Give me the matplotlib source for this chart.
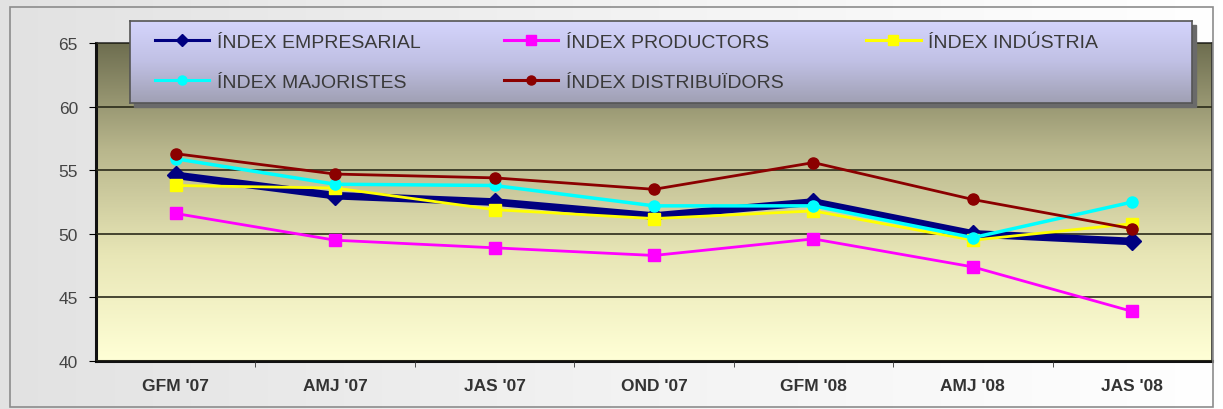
import numpy as np
import matplotlib.pyplot as plt
from matplotlib.colors import LinearSegmentedColormap
from matplotlib.lines import Line2D
from matplotlib.patches import Rectangle

plt.rcParams["font.family"] = ["Liberation Sans", "DejaVu Sans"]

periods = ["GFM '07", "AMJ '07", "JAS '07", "OND '07", "GFM '08", "AMJ '08", "JAS '08"]

empresarial = [54.6, 53.0, 52.5, 51.4, 52.5, 50.0, 49.4]
productors = [51.6, 49.5, 48.9, 48.3, 49.6, 47.4, 43.9]
industria = [53.8, 53.6, 51.9, 51.2, 51.8, 49.5, 50.8]
majoristes = [55.9, 53.9, 53.8, 52.2, 52.2, 49.7, 52.5]
distribuidors = [56.3, 54.7, 54.4, 53.5, 55.6, 52.7, 50.4]

series = [
    ("ÍNDEX EMPRESARIAL", empresarial, "#000080", "D", 5.5, 9),
    ("ÍNDEX PRODUCTORS", productors, "#ff00ff", "s", 2, 8),
    ("ÍNDEX INDÚSTRIA", industria, "#ffff00", "s", 2, 8),
    ("ÍNDEX MAJORISTES", majoristes, "#00ffff", "o", 2.5, 8),
    ("ÍNDEX DISTRIBUÏDORS", distribuidors, "#8b0000", "o", 2, 8),
]

fig = plt.figure(figsize=(12.23, 4.10), dpi=100)

# light grey figure background with gradient
bg = fig.add_axes([0, 0, 1, 1], zorder=-10)
bg.imshow(np.linspace(0, 1, 256).reshape(1, -1), extent=[0, 1, 0, 1], aspect="auto",
          cmap=LinearSegmentedColormap.from_list("bgg", ["#e2e2e2", "#f2f2f2", "#ffffff"]))
bg.axis("off")
fig.patches.append(Rectangle((0.008, 0.005), 0.984, 0.975, transform=fig.transFigure,
                             fill=False, edgecolor="#8c8c8c", lw=1.2))

ax = fig.add_axes([0.0785, 0.117, 0.9125, 0.7756])
x = np.arange(len(periods))

# plot area gradient (olive at top to pale yellow at bottom)
cmap = LinearSegmentedColormap.from_list(
    "plotbg", ["#ffffd6", "#e8e6b6", "#b8b68c", "#6e6e50"])
ax.imshow(np.linspace(0, 1, 256).reshape(-1, 1), extent=[-0.5, 6.5, 40, 65],
          aspect="auto", origin="lower", cmap=cmap, zorder=0)

for label, vals, color, marker, lw, ms in series:
    ax.plot(x, vals, color=color, marker=marker, lw=lw, ms=ms, label=label, zorder=3)

ax.set_xlim(-0.5, 6.5)
ax.set_ylim(40, 65)
ax.set_yticks(range(40, 66, 5))
ax.yaxis.grid(True, color="#2a2a1a", lw=1.2, zorder=1)
ax.set_axisbelow(False)
ax.set_xticks(x)
ax.set_xticklabels(periods, fontsize=12.5, fontweight="bold", color="#333333")
ax.set_xticks(np.arange(0.5, 6, 1), minor=True)
ax.tick_params(axis="x", which="major", length=0, pad=12)
ax.tick_params(axis="x", which="minor", length=4, color="#333333")
ax.tick_params(axis="y", length=5, labelsize=12.5, labelcolor="#444444", pad=8)
for s in ["left", "bottom"]:
    ax.spines[s].set_linewidth(2.2)
    ax.spines[s].set_color("#111111")
for s in ["top", "right"]:
    ax.spines[s].set_linewidth(1.2)
    ax.spines[s].set_color("#333333")

# legend box: shadow + gradient frame drawn as its own axes
lx, ly, lw_, lh = 130 / 1223, (410 - 104) / 410, 1062 / 1223, 82 / 410
fig.patches.append(Rectangle((lx + 4 / 1223, ly - 4 / 410), lw_, lh,
                             transform=fig.transFigure, color="#6a6a6a", zorder=4))
lax = fig.add_axes([lx, ly, lw_, lh], zorder=5)
lax.imshow(np.linspace(0, 1, 64).reshape(-1, 1), extent=[0, 1, 0, 1], aspect="auto",
           origin="lower",
           cmap=LinearSegmentedColormap.from_list("lg", ["#a0a0b4", "#c0c0e4", "#d4d4fc"]))
lax.set_xticks([])
lax.set_yticks([])
for s in lax.spines.values():
    s.set_color("#555555")
    s.set_linewidth(1.2)

proxies = [Line2D([], [], color=c, marker=m, lw=2.2, ms=6.5) for _, _, c, m, _, _ in series]
order = [0, 3, 1, 4, 2]
leg = lax.legend([proxies[i] for i in order], [series[i][0] for i in order],
                 ncol=3, loc="center left", bbox_to_anchor=(0.0235, 0.5),
                 borderaxespad=0, borderpad=0, fontsize=14, handlelength=2.8,
                 handletextpad=0.4, columnspacing=4.25, labelspacing=1.15,
                 frameon=False)
for t in leg.get_texts():
    t.set_color("#3a3a3a")

fig.savefig("out.png", dpi=100)
